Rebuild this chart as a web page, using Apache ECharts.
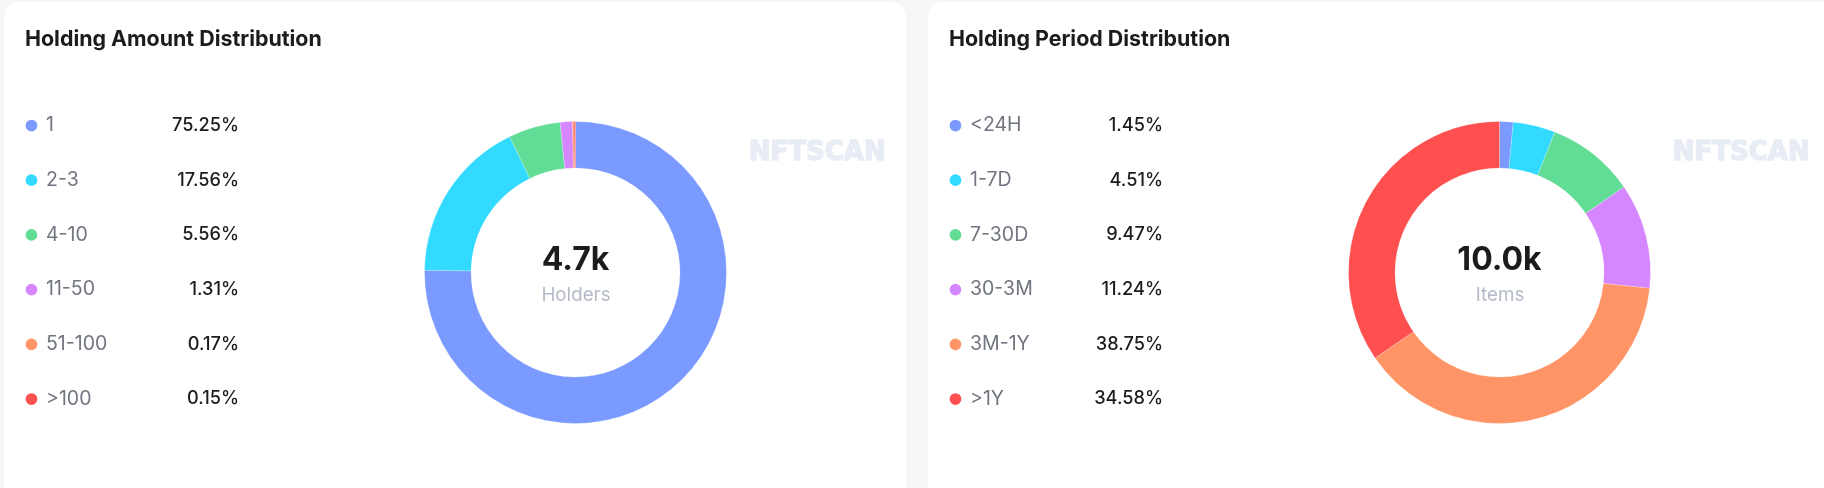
<!DOCTYPE html>
<html><head><meta charset="utf-8">
<style>html,body{margin:0;padding:0;background:#f5f6f8}#c{width:1824px;height:488px}</style>
<script src="https://cdn.jsdelivr.net/npm/echarts@6/dist/echarts.min.js"></script>
</head><body><div id="c"></div>
<script>
const colors = ['#7A9AFF','#32DAFF','#62DD96','#D687FF','#FF9566','#FF5050'];
const amountCategories = ['1','2-3','4-10','11-50','51-100','>100'];
const amountValues = [75.25,17.56,5.56,1.31,0.17,0.15];
const periodCategories = ['<24H','1-7D','7-30D','30-3M','3M-1Y','>1Y'];
const periodValues = [1.45,4.51,9.47,11.24,38.75,34.58];

const font = 'Inter';
function toData(cats, vals){ return cats.map((n,i)=>({name:n,value:vals[i]})); }
function pie(cats, vals, cx){
  return {type:'pie',center:[cx,272.5],radius:[104.5,151],startAngle:90,clockwise:true,silent:true,
    label:{show:false},labelLine:{show:false},emphasis:{disabled:true},
    itemStyle:{borderColor:'#fff',borderWidth:0.2},
    data:toData(cats,vals)};
}
function legend(cats, vals, left){
  return {orient:'vertical',left:left,top:115.5,padding:0,icon:'circle',itemWidth:13.75,itemHeight:13.75,itemGap:34.7,
    selectedMode:false,data:cats,
    formatter:n=>`{n|${n}}{v|${vals[cats.indexOf(n)].toFixed(2)}%}`,
    textStyle:{rich:{
      n:{width:121,height:20,lineHeight:20,fontFamily:font,fontSize:19.5,color:'#70757F',padding:[0,0,0,2.65]},
      v:{width:72,height:20,lineHeight:20,align:'right',fontFamily:font,fontSize:18.2,fontWeight:500,color:'#1C1C1C'}
    }}};
}
function head(text,x){ return {text,left:x,top:28,padding:0,textStyle:{fontFamily:font,fontSize:21.4,fontWeight:700,color:'#1C1C1C',lineHeight:24}}; }
function center(main,sub,cx){
  return [
    {text:main,left:cx,top:241,padding:0,textAlign:'center',textStyle:{fontFamily:font,fontSize:32,fontWeight:700,color:'#1C1C1C',lineHeight:38}},
    {text:sub,left:cx+0.5,top:284,padding:0,textAlign:'center',textStyle:{fontFamily:font,fontSize:18.8,fontWeight:400,color:'#B4BAC8',lineHeight:22}}
  ];
}
function mark(x){
  return {type:'text',left:x,top:139,silent:true,style:{text:'NFTSCAN',fontFamily:'DejaVu Sans',fontWeight:'bold',fontSize:26,fill:'#E8ECF5',stroke:'#E8ECF5',lineWidth:1.5}};
}
const chart = echarts.init(document.getElementById('c'),null,{renderer:'canvas'});
chart.setOption({
  animation:false,backgroundColor:'#F5F6F8',color:colors,
  title:[head('Holding Amount Distribution',25),head('Holding Period Distribution',949),
         ...center('4.7k','Holders',575.5),...center('10.0k','Items',1499.5)],
  legend:[legend(amountCategories,amountValues,23.6),legend(periodCategories,periodValues,947.6)],
  series:[pie(amountCategories,amountValues,575.5),pie(periodCategories,periodValues,1499.5)],
  graphic:[
    {type:'rect',z:-10,silent:true,shape:{x:4,y:2,width:902,height:520,r:14},style:{fill:'#fff'}},
    {type:'rect',z:-10,silent:true,shape:{x:928,y:2,width:940,height:520,r:14},style:{fill:'#fff'}},
    mark(748),mark(1672)
  ]
});
</script></body></html>
